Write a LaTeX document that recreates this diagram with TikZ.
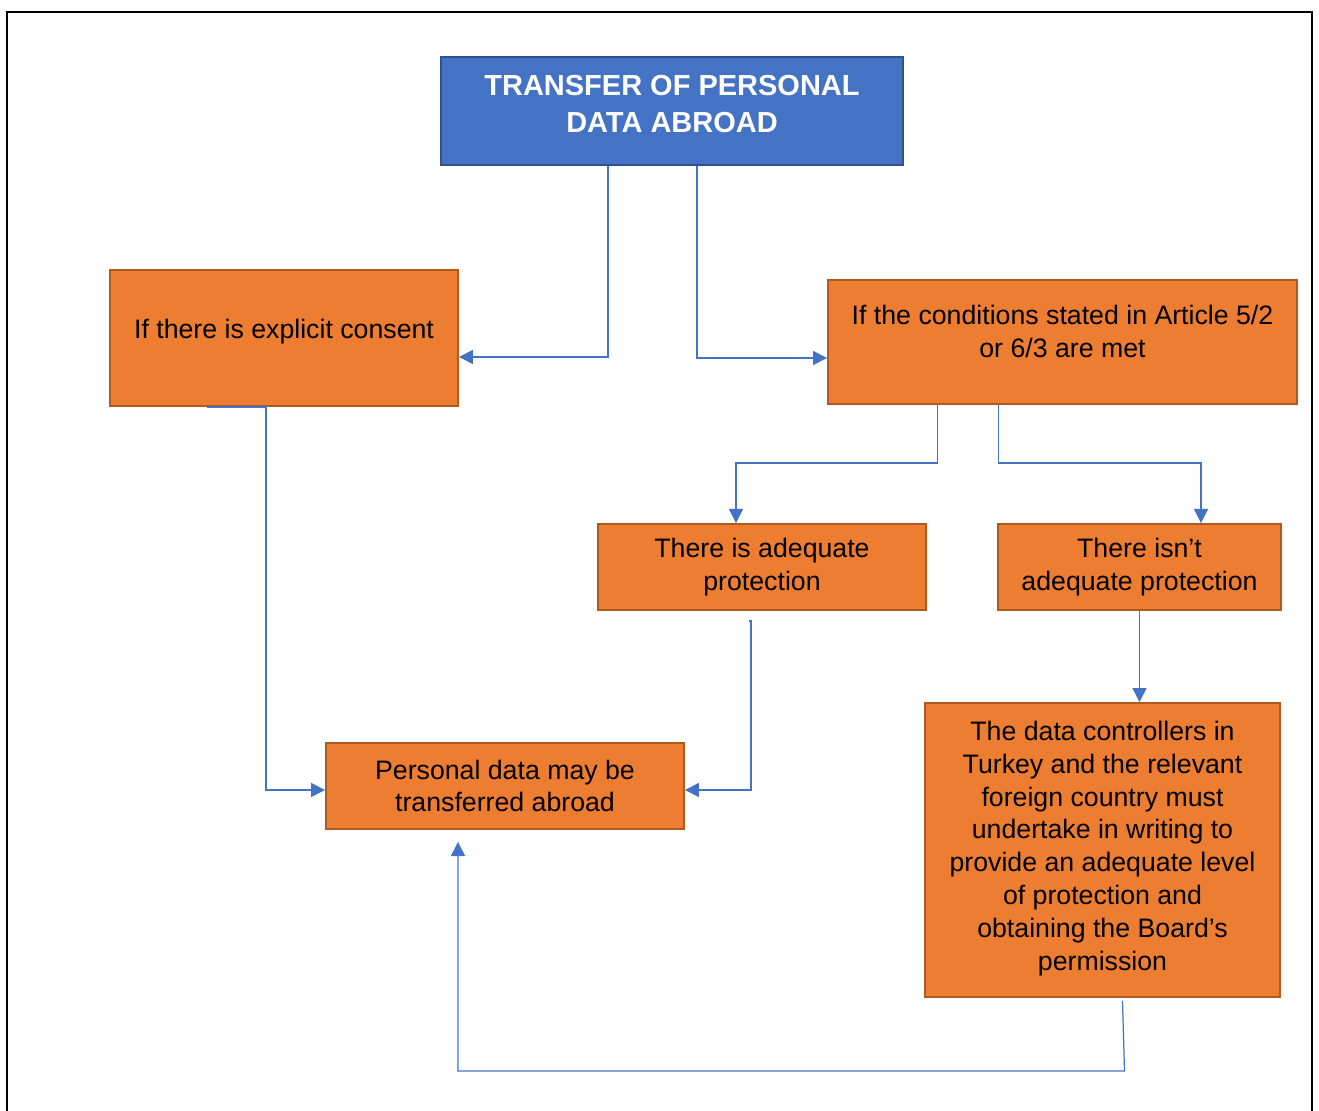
\documentclass[tikz,border=0pt]{standalone}
\usepackage{fontspec}
\setmainfont{Liberation Sans}
\usepackage{tikz}
\usetikzlibrary{arrows.meta}
\usetikzlibrary{calc}
\definecolor{titlefill}{HTML}{4472C4}
\definecolor{titleedge}{HTML}{2F528F}
\definecolor{boxfill}{HTML}{ED7D31}
\definecolor{boxedge}{HTML}{AE5A21}
\definecolor{linkblue}{HTML}{4472C4}
\tikzset{box/.style = {draw = boxedge, fill = boxfill, line width = 1.1pt,
                       align = center, inner sep = 0pt,
                       font = \fontsize{15.2}{18.7}\selectfont},
         titlebox/.style = {box, draw = titleedge, fill = titlefill, text = white,
                            font = \fontsize{16.5}{21}\selectfont\bfseries},
         link/.style = {draw = linkblue, line width = 0.7pt,
                        -{Triangle[length = 8pt, width = 8pt]}}}

\begin{document}
\begin{tikzpicture}[x = 0.02cm, y = -0.02cm]
      \useasboundingbox (0, 0) rectangle (1319, 1111);
      \draw [line width = 1.4pt] (7, 1111) -- (7, 12) -- (1312, 12) -- (1312, 1111);
      \node [titlebox, minimum width = 9.24cm, minimum height = 2.16cm, text depth = 8pt]
            (title) at (672, 111) {TRANSFER OF PERSONAL\\DATA ABROAD};
      \node [box, minimum width = 6.96cm, minimum height = 2.72cm, text depth = 11pt]
            (consent) at (284, 338) {If there is explicit consent};
      \node [box, minimum width = 9.38cm, minimum height = 2.48cm, text depth = 12pt]
            (conditions) at (1062.5, 342) {If the conditions stated in Article 5/2\\or 6/3 are met};
      \node [box, minimum width = 6.56cm, minimum height = 1.72cm]
            (adequate) at (762, 567) {There is adequate\\protection};
      \node [box, minimum width = 5.66cm, minimum height = 1.72cm]
            (noadequate) at (1139.5, 567) {There isn’t\\adequate protection};
      \node [box, minimum width = 7.16cm, minimum height = 1.72cm]
            (personal) at (505, 786) {Personal data may be\\transferred abroad};
      \node [box, minimum width = 7.1cm, minimum height = 5.88cm, text depth = 5pt]
            (controllers) at (1102.5, 850) {The data controllers in\\Turkey and the relevant\\foreign country must\\undertake in writing to\\provide an adequate level\\of protection and\\obtaining the Board’s\\permission};
      \coordinate (back) at ($(personal.south) + (-47, 12)$);
      \draw [link] ($(title.south) + (-64, 0)$) |- ($(consent.east) + (0, 19)$);
      \draw [link] ($(title.south) + (25, 0)$) |- ($(conditions.west) + (0, 16)$);
      \draw [link] ($(conditions.south) + (-125, 0)$) -- ++(0, 58) -| ($(adequate.north) + (-26, 0)$);
      \draw [link] ($(conditions.south) + (-64, 0)$) -- ++(0, 58) -| ($(noadequate.north) + (61.5, 0)$);
      \draw [link] ($(consent.south) + (-77, 0)$) -- ++(59, 0) |- ($(personal.west) + (0, 4)$);
      \draw [link] ($(adequate.south) + (-13, 10)$) -- ++(2, 0) |- ($(personal.east) + (0, 4)$);
      \draw [link] (noadequate.south) -- (noadequate.south |- controllers.north);
      \draw [link] ($(controllers.south) + (20, 3)$) -- ++(2, 70) -| (back);
    \end{tikzpicture}
\end{document}
